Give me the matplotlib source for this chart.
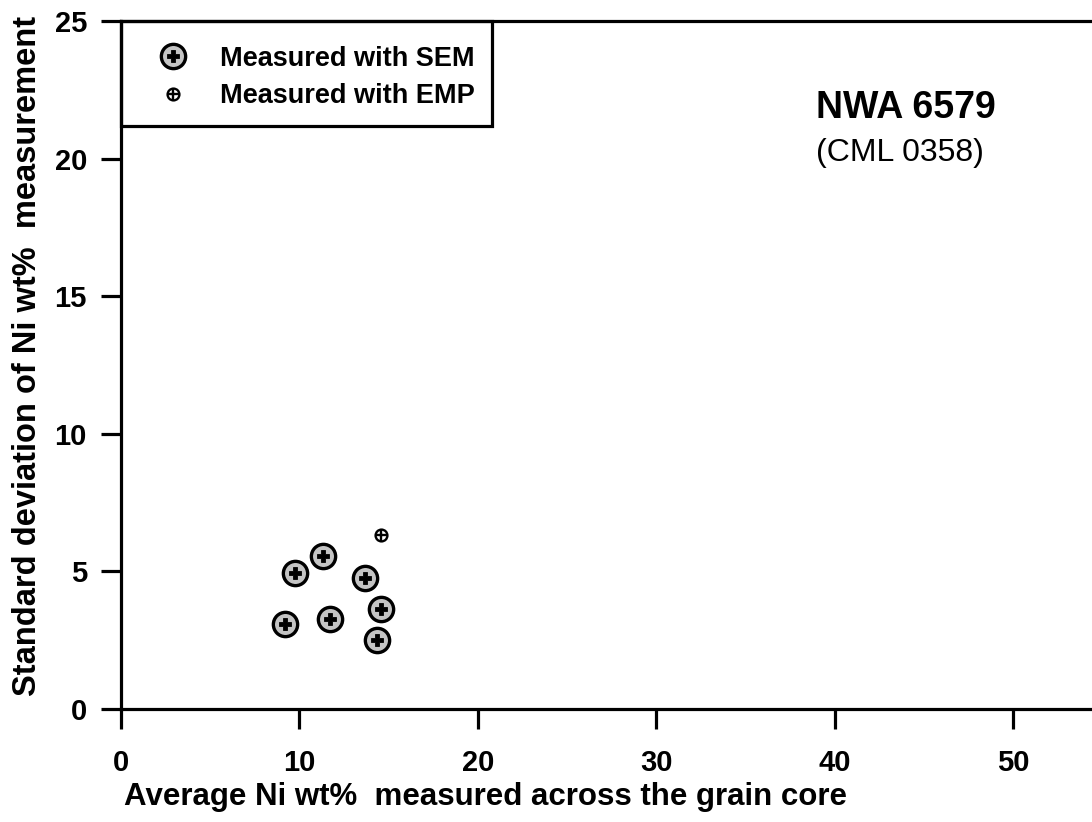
import matplotlib
matplotlib.use("Agg")
import matplotlib.pyplot as plt
from matplotlib.lines import Line2D
from matplotlib.patches import Rectangle
from matplotlib.legend_handler import HandlerTuple

# ---- data ----
sem_x = [9.2, 9.75, 11.3, 11.7, 13.7, 14.6, 14.35]
sem_y = [3.1, 4.93, 5.55, 3.28, 4.75, 3.65, 2.52]
emp_x = [14.6]
emp_y = [6.32]
x_ticks = [0, 10, 20, 30, 40, 50]
y_ticks = [0, 5, 10, 15, 20, 25]
legend_labels = ["Measured with SEM", "Measured with EMP"]
title_main = "NWA 6579"
title_sub = "(CML 0358)"
x_label = "Average Ni wt%  measured across the grain core"
y_label = "Standard deviation of Ni wt%  measurement"

plt.rcParams['font.family'] = ['Liberation Sans', 'DejaVu Sans']

W, H = 1092, 822
fig = plt.figure(figsize=(W / 100, H / 100), dpi=100)
ax_left, ax_bottom, ax_top = 121, 709, 21
px_per_x = 17.84
xmax = 55
ax = fig.add_axes([ax_left / W, (H - ax_bottom) / H, xmax * px_per_x / W, (ax_bottom - ax_top) / H])
ax.set_xlim(0, xmax)
ax.set_ylim(0, 25)

lw = 2.3
for s in ['left', 'bottom', 'top']:
    ax.spines[s].set_linewidth(lw)
ax.spines['right'].set_visible(False)
ax.set_xticks(x_ticks)
ax.set_yticks(y_ticks)
ax.tick_params(direction='out', length=14.5, width=lw, labelsize=21, colors='black')
ax.tick_params(axis='x', pad=14)
ax.tick_params(axis='y', pad=10)
for lab in ax.get_xticklabels() + ax.get_yticklabels():
    lab.set_fontweight('bold')

# SEM markers
gray = '#c4c4c4'
ax.plot(sem_x, sem_y, linestyle='none', marker='o', ms=17.5, mfc=gray, mec='black', mew=2.4, zorder=3)
ax.plot(sem_x, sem_y, linestyle='none', marker='P', ms=8, mfc='black', mec='black', mew=0.6, zorder=4)
# EMP markers
ax.plot(emp_x, emp_y, linestyle='none', marker='o', ms=8.5, mfc='white', mec='black', mew=1.7, zorder=3)
ax.plot(emp_x, emp_y, linestyle='none', marker='+', ms=8.5, mec='black', mew=1.7, zorder=4)

# legend box
ax_w_px = xmax * px_per_x
ax_h_px = ax_bottom - ax_top
box_w = (492 - ax_left) / ax_w_px
box_h = (126 - ax_top) / ax_h_px
ax.add_patch(Rectangle((0, 1 - box_h), box_w, box_h, transform=ax.transAxes,
                       fill=False, lw=lw, edgecolor='black', clip_on=False, zorder=5))

h_sem = (Line2D([], [], ls='none', marker='o', ms=17.5, mfc=gray, mec='black', mew=2.4),
         Line2D([], [], ls='none', marker='P', ms=8, mfc='black', mec='black', mew=0.6))
h_emp = (Line2D([], [], ls='none', marker='o', ms=8.5, mfc='white', mec='black', mew=1.7),
         Line2D([], [], ls='none', marker='+', ms=8.5, mec='black', mew=1.7))
leg = ax.legend([h_sem, h_emp], legend_labels, loc='upper left', bbox_to_anchor=(0, 1),
                borderaxespad=0, frameon=False, handler_map={tuple: HandlerTuple(ndivide=1)},
                prop={'weight': 'bold', 'size': 19.5}, borderpad=0.92, handlelength=2.0,
                handletextpad=0.75, labelspacing=0.42)

# annotations
ax.text((816 - ax_left) / ax_w_px, (ax_bottom - 108) / ax_h_px, title_main, transform=ax.transAxes,
        fontsize=27, fontweight='bold', ha='left', va='center')
ax.text((816 - ax_left) / ax_w_px, (ax_bottom - 153) / ax_h_px, title_sub, transform=ax.transAxes,
        fontsize=23, ha='left', va='center')

ax.set_xlabel(x_label, fontsize=22.5, fontweight='bold')
ax.xaxis.set_label_coords((485 - ax_left) / ax_w_px, -(782 - ax_bottom) / ax_h_px)
ax.set_ylabel(y_label, fontsize=23.5, fontweight='bold')
ax.yaxis.set_label_coords(-(ax_left - 43) / ax_w_px, (ax_bottom - 356) / ax_h_px)

fig.savefig('out.png', dpi=100)
